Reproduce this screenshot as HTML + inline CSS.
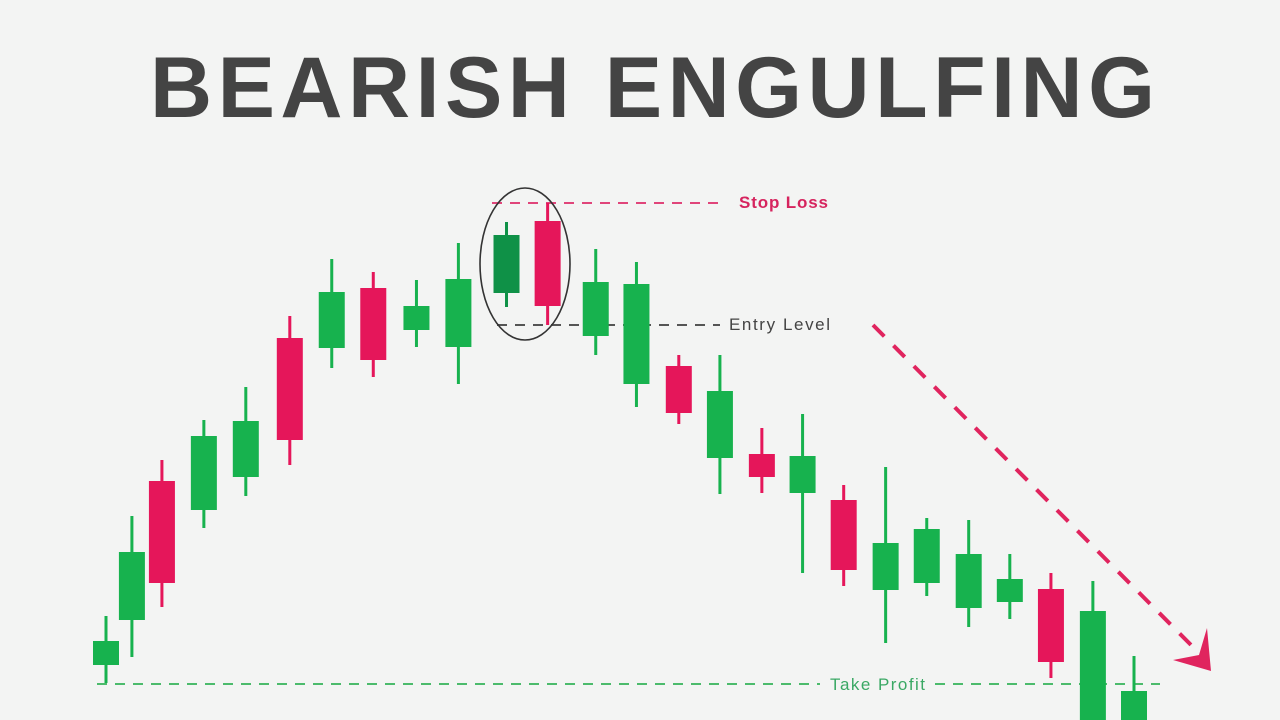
<!DOCTYPE html>
<html><head><meta charset="utf-8"><style>
html,body{margin:0;padding:0;background:#f3f4f3;}
svg{display:block;}
</style></head><body>
<svg id="chart" width="1280" height="720" viewBox="0 0 1280 720" xmlns="http://www.w3.org/2000/svg">
<rect x="0" y="0" width="1280" height="720" fill="#f3f4f3"/>
<text x="150" y="117" textLength="1005" lengthAdjust="spacing" font-family="Liberation Sans, sans-serif" font-weight="bold" font-size="86" fill="#444444">BEARISH ENGULFING</text>
<g id="lines"></g>
<g id="candles"></g>
<ellipse cx="525" cy="264" rx="45" ry="76" fill="none" stroke="#333" stroke-width="1.6"/>
<line x1="873" y1="325" x2="1196" y2="650" stroke="#e0245e" stroke-width="4" stroke-dasharray="16,13"/>
<polygon points="1173,660 1211,671 1207,628 1199,655" fill="#e0245e"/>
<text x="739" y="208" textLength="89" font-family="Liberation Sans, sans-serif" font-size="17" font-weight="bold" fill="#d6245e">Stop Loss</text>
<text x="729" y="330" textLength="101" font-family="Liberation Sans, sans-serif" font-size="17" fill="#444">Entry Level</text>
<text x="830" y="690" textLength="95" font-family="Liberation Sans, sans-serif" font-size="17" fill="#3aa864">Take Profit</text>
</svg>
<script>
const times = [0,0.63,1.36,2.38,3.4,4.47,5.49,6.5,7.55,8.57,9.74,10.74,11.91,12.9,13.93,14.93,15.95,16.94,17.94,18.96,19.96,20.98,21.98,22.98,24,25];
const opens = [55,100,239,210,243,382,372,432,390,373,427,499,384,336,354,262,266,227,220,130,137,112,118,131,-10,-10];
const highs = [104,204,260,300,333,404,461,448,440,477,498,517,471,458,365,365,292,306,235,253,202,200,166,147,139,64];
const lows = [37,63,113,192,224,255,352,343,373,336,413,395,365,313,296,226,227,147,134,77,124,93,101,42,-10,-10];
const closes = [79,168,137,284,299,280,428,360,414,441,485,414,438,436,307,329,243,264,150,177,191,166,141,58,109,29];
const highlightIndex = 10;
const stopLossLevel = 517;
const entryLevel = 395;
const takeProfitLevel = 36;

const NS = 'http://www.w3.org/2000/svg';
function xScale(t){ return 106 + t*41.12; }
function yScale(v){ return 720 - v; }

const lg = document.getElementById('lines');
function hline(name, v, x1, x2, color){
  const l = document.createElementNS(NS,'line');
  
  
  l.setAttribute('x1', x1); l.setAttribute('x2', x2);
  l.setAttribute('y1', yScale(v)); l.setAttribute('y2', yScale(v));
  l.setAttribute('stroke', color); l.setAttribute('stroke-width', '2');
  l.setAttribute('stroke-dasharray', '10,8');
  lg.appendChild(l);
}
hline('stop-loss-line', stopLossLevel, 492, 722, '#e0457a');
hline('entry-level-line', entryLevel, 497, 720, '#555');
hline('take-profit-line-left', takeProfitLevel, 97, 820, '#4cbb6c');
hline('take-profit-line-right', takeProfitLevel, 935, 1160, '#4cbb6c');

const cg = document.getElementById('candles');
for (let i=0;i<times.length;i++){
  const x = xScale(times[i]);
  const up = closes[i] >= opens[i];
  const color = i===highlightIndex ? '#0f9147' : (up ? '#17b24e' : '#e5165a');
  const g = document.createElementNS(NS,'g');
  
  
  const w = document.createElementNS(NS,'line');
  
  
  w.setAttribute('x1', x); w.setAttribute('x2', x);
  w.setAttribute('y1', yScale(highs[i])); w.setAttribute('y2', yScale(lows[i]));
  w.setAttribute('stroke', color); w.setAttribute('stroke-width', '3');
  g.appendChild(w);
  const b = document.createElementNS(NS,'rect');
  
  
  const top = yScale(Math.max(opens[i],closes[i]));
  const bot = yScale(Math.min(opens[i],closes[i]));
  b.setAttribute('x', x-13); b.setAttribute('width', 26);
  b.setAttribute('y', top); b.setAttribute('height', Math.max(1, bot-top));
  b.setAttribute('fill', color);
  g.appendChild(b);
  cg.appendChild(g);
}
</script>
</body></html>
